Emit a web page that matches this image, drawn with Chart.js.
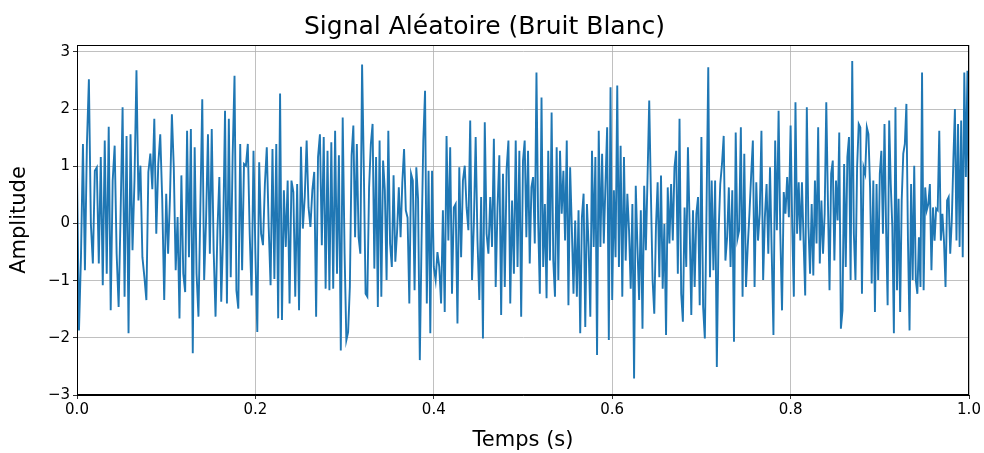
<!DOCTYPE html>
<html>
<head>
<meta charset="utf-8">
<script src="https://cdn.jsdelivr.net/npm/chart.js@4/dist/chart.umd.min.js"></script>
<style>
  html, body { margin: 0; padding: 0; background: #fff; }
  #wrap { width: 984px; height: 453px; }
</style>
</head>
<body>
<div id="wrap"><canvas id="c" width="984" height="453"></canvas></div>
<script>
// amplitude, one array per 0.1 s of signal
const seg0 = [0.92, -1.87, -0.59, 1.39, -0.82, 1.39, 2.52, -0.01, -0.70, 0.92, 0.98, -0.70, 1.16, -1.08, 1.45, -0.88, 1.69, -1.52, 0.75, 1.36, -0.53, -1.46, 0.17, 2.03, -1.28, 1.53, -1.92, 1.56, -0.47, 0.75, 2.68, 0.40, 1.01, -0.59, -0.94, -1.34, 0.90, 1.22, 0.60, 1.83, -0.18, 1.04, 1.56, 0.40, -1.34];
const seg1 = [0.52, -0.53, 0.46, 1.91, 0.98, -0.82, 0.11, -1.66, 0.84, -0.88, -1.20, 1.62, -0.59, 1.65, -2.27, 1.33, -0.88, -1.63, 0.28, 2.17, -0.99, 0.05, 1.56, -0.53, 1.65, -0.47, -1.63, -0.12, 0.81, -1.37, -0.18, 1.97, -1.40, 1.83, -0.94, 1.16, 2.58, -1.17, -1.49, 1.39, -0.82, 1.04, 1.01, 1.39, -0.18, -1.26, 1.27];
const seg2 = [-0.53, -1.90, 1.07, -0.18, -0.38, 0.69, 1.33, -0.06, -1.08, 1.30, -0.97, 1.39, -1.66, 2.27, -1.69, 0.58, -0.41, 0.75, -1.40, 0.75, 0.55, -1.28, 0.69, -1.52, 1.34, -0.09, 0.46, 1.45, 0.28, -0.06, 0.58, 0.90, -1.63, 1.16, 1.56, -0.38, 1.51, -1.14, 1.27, -1.17, 1.42, -1.14, 1.62, -0.88, 1.19, -2.22, 1.85];
const seg3 = [-0.53, -2.04, -1.90, -1.11, 1.19, 1.71, -0.24, 1.39, -0.24, -0.53, 2.78, 0.92, -1.23, -1.28, 0.63, 1.39, 1.74, -0.79, 1.16, -1.46, 1.45, -1.28, 1.10, 0.58, -0.99, 1.62, -0.35, -0.76, 0.84, -0.67, -0.15, 0.63, -0.24, 0.72, 1.30, 0.23, 0.10, -1.40, 0.87, 0.75, -1.17, 0.98, 0.43, -2.39, -0.30, 1.45, 2.32, -1.40, 0.92, -1.92, 0.92];
const seg4 = [-0.76, -0.99, -0.50, -0.76, -1.40, 0.23, -1.55, 1.53, -0.30, 1.33, -1.23, 0.28, 0.34, -1.75, 0.98, -0.59, 0.75, 1.01, 0.28, -0.12, 1.80, -0.99, -0.01, 1.51, -0.30, -1.34, 0.46, -2.01, 1.77, -0.18, -0.53, 0.46, -0.41, 1.48, -1.11, 0.28, 1.19, -1.60, 0.87, -1.11, 0.95, 1.45, -1.40, 0.40, -0.88, 1.45, -0.76, 1.27, -1.63];
const seg5 = [1.10, 1.45, -0.24, 1.27, -0.70, 0.63, 0.81, -0.35, 2.64, 0.05, -1.23, 2.20, -0.76, 0.34, -1.31, 1.27, -0.65, 1.94, -0.65, -1.28, 1.33, -0.99, 1.27, 0.17, 0.92, -0.30, 1.45, -1.43, 0.98, -0.06, -1.23, 0.05, -1.28, 0.23, -1.92, 0.11, 0.52, -1.81, 0.34, -0.41, -1.63, 1.27, -0.41, 1.16, -2.30, 1.62, -0.41, 1.22, -0.35, 0.69, 1.68, -2.04, 2.38];
const seg6 = [-1.34, 0.58, -0.59, 2.41, -0.76, 1.36, -1.28, 1.16, -0.65, 0.52, -0.12, -1.14, 0.34, -2.71, 0.66, -0.41, -1.34, 0.23, -1.84, 0.66, -0.47, 0.81, 2.15, 0.52, -0.99, -1.58, -0.06, 0.72, -0.94, 0.84, -1.14, -0.01, -1.95, 0.63, -0.35, 0.69, -0.30, 0.98, 1.27, -0.88, 1.83, -1.23, -1.72, 0.28, -0.76, 1.33, -0.01, -1.60, 0.23, -1.11, 0.17, 0.46, -1.43];
const seg7 = [1.51, -1.46, -2.01, 0.28, 2.73, -0.94, 0.75, -0.82, 0.75, -2.51, -0.18, 0.69, 1.04, 1.53, -0.65, -0.24, 0.63, -0.76, 0.58, -2.07, 1.59, -0.27, -0.12, 1.68, -1.28, 1.22, -1.11, -0.41, 0.17, 0.84, 1.45, -1.11, 0.72, -0.30, 0.17, 1.62, -0.99, 0.11, 0.69, -0.53, 0.98, -0.53, -1.95, 1.45, -0.12, 1.97, -0.18, -1.52, 0.55, 0.17, 0.81, 0.11];
const seg8 = [1.71, -0.06, -1.28, 2.12, -0.18, 0.72, -0.30, 0.72, -0.30, -1.26, 2.03, -0.06, -0.88, 0.34, -0.91, 0.75, -0.35, 1.68, -0.70, 0.40, -0.53, 0.17, 2.12, 0.40, -1.17, 0.87, 1.10, -0.65, 0.75, 0.05, 1.59, -1.84, -1.52, 1.04, -0.76, 1.16, 1.51, -0.99, 2.84, -0.18, -0.99, 0.98, 1.74, 1.68, -1.23, 0.98, 0.87, 1.68, 1.56, 0.63, -1.05, 0.75, -1.55, 0.69, -0.99];
const seg9 = [0.87, 1.27, -0.18, 1.74, -0.06, -1.43, 1.80, 0.69, -0.06, -1.92, 2.03, -1.17, 0.43, -1.55, 0.40, 1.22, 1.39, 2.09, -0.30, -1.87, 0.69, -0.99, 1.01, -0.99, -1.23, -0.24, -1.11, 2.64, -1.17, 0.63, 0.23, 0.34, 0.69, -0.82, 0.28, -0.30, 0.26, 0.23, 1.62, -0.30, 0.17, -0.30, -1.11, 0.40, 0.46, -0.53, 0.05, 1.10, 2.00, -0.30, 1.74, -0.41, 1.80, -0.59, 2.64, 0.81, 2.67, -0.82];

const segments = [seg0, seg1, seg2, seg3, seg4, seg5, seg6, seg7, seg8, seg9];
const segLength = 0.1;

const xTicks = [0, 0.2, 0.4, 0.6, 0.8, 1.0];
const yTicks = [-3, -2, -1, 0, 1, 2, 3];

const points = [];
segments.forEach((seg, k) => {
  const last = k === segments.length - 1;
  seg.forEach((v, j) => {
    const frac = last ? j / (seg.length - 1) : j / seg.length;
    points.push({x: (k + frac) * segLength, y: v});
  });
});

const font = 'DejaVu Sans';

// top and right spines like matplotlib
const frame = {
  id: 'frame',
  afterDatasetsDraw(chart) {
    const {ctx, chartArea: a} = chart;
    ctx.save();
    ctx.strokeStyle = '#000';
    ctx.lineWidth = 1;
    ctx.strokeRect(a.left + 0.5, a.top + 0.5, a.right - a.left - 1, a.bottom - a.top - 1);
    ctx.restore();
  }
};

new Chart(document.getElementById('c'), {
  type: 'line',
  data: {
    datasets: [{
      data: points,
      borderColor: '#1f77b4',
      borderWidth: 1.9,
      pointRadius: 0,
      tension: 0
    }]
  },
  options: {
    responsive: false,
    animation: false,
    layout: {padding: {left: 0, right: 15, top: 0, bottom: 0}},
    plugins: {
      legend: {display: false},
      tooltip: {enabled: false},
      title: {
        display: true,
        text: 'Signal Aléatoire (Bruit Blanc)',
        color: '#000',
        font: {family: font, size: 25, weight: 'normal'},
        padding: {top: 12, bottom: 3}
      }
    },
    scales: {
      x: {
        type: 'linear',
        min: 0,
        max: 1,
        afterBuildTicks: (scale) => { scale.ticks = xTicks.map(v => ({value: v})); },
        afterFit: (scale) => { scale.height = 58; },
        ticks: {
          color: '#000',
          font: {family: font, size: 15},
          padding: 2,
          maxRotation: 0,
          callback: (v) => v.toFixed(1)
        },
        grid: {color: '#b0b0b0', lineWidth: 0.8, tickColor: '#000', tickLength: 4},
        border: {display: true, color: '#000', width: 1},
        title: {
          display: true,
          text: 'Temps (s)',
          color: '#000',
          font: {family: font, size: 21},
          padding: {top: 2, bottom: 0}
        }
      },
      y: {
        type: 'linear',
        min: -3,
        max: 3.12,
        afterBuildTicks: (scale) => { scale.ticks = yTicks.map(v => ({value: v})); },
        afterFit: (scale) => { scale.width = 77; },
        ticks: {
          color: '#000',
          font: {family: font, size: 15},
          padding: 3,
          callback: (v) => v < 0 ? '\u2212' + Math.abs(v) : String(v)
        },
        grid: {color: '#b0b0b0', lineWidth: 0.8, tickColor: '#000', tickLength: 4},
        border: {display: true, color: '#000', width: 1},
        title: {
          display: true,
          text: 'Amplitude',
          color: '#000',
          font: {family: font, size: 21},
          padding: {top: 7, bottom: 0}
        }
      }
    }
  },
  plugins: [frame]
});
</script>
</body>
</html>
